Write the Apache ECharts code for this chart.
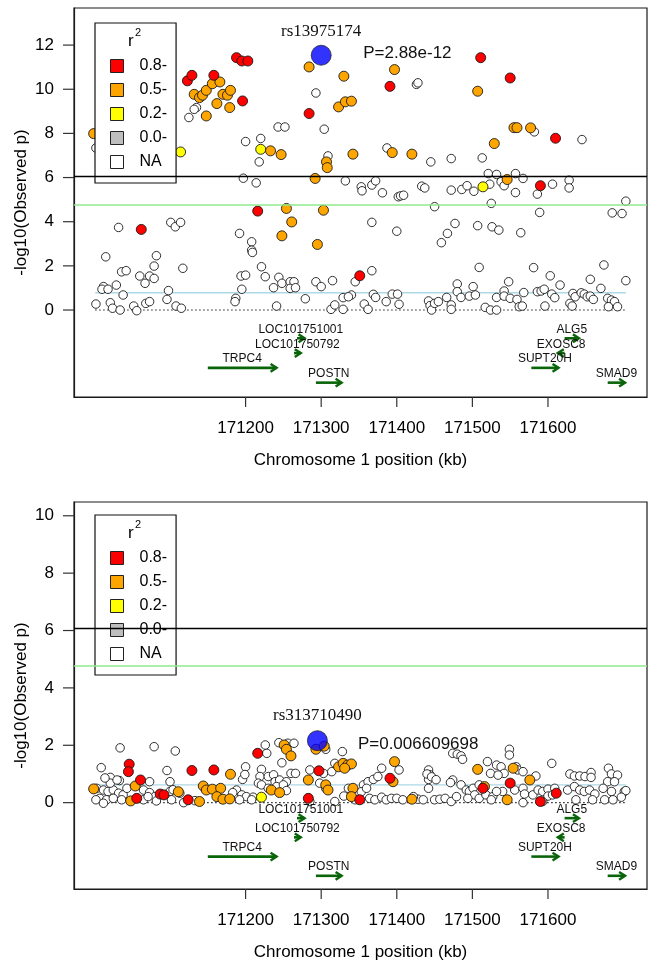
<!DOCTYPE html>
<html><head><meta charset="utf-8">
<script src="https://cdn.jsdelivr.net/npm/echarts@6/dist/echarts.min.js"></script>
<style>html,body{margin:0;padding:0;background:#fff}#c{width:648px;height:963px}</style>
</head><body><div id="c"></div>
<script>
// ---------- data ----------
const xTicksKb = [171200, 171300, 171400, 171500, 171600];
const topYTicks = [0, 2, 4, 6, 8, 10, 12];
const bottomYTicks = [0, 2, 4, 6, 8, 10];
const r2Classes = ['0.8-', '0.5-', '0.2-', '0.0-', 'NA'];
const r2Colors = ['#FF0000', '#FFA500', '#FFFF00', '#BEBEBE', '#FFFFFF'];
const regionKb = [171001, 171703];

const topLead = { snp: 'rs13975174', p: 'P=2.88e-12', kb: 171300, logp: 11.54 };
const bottomLead = { snp: 'rs313710490', p: 'P=0.006609698', kb: 171295, logp: 2.16 };
const topThresholds = { genome: 6.06, suggestive: 4.75, baseline: 0.78 };
const bottomThresholds = { genome: 6.09, suggestive: 4.77, baseline: 0.62 };

const genes = [
  { name: 'LOC101751001', start: 171268, end: 171278, strand: '+', row: 0 },
  { name: 'LOC101750792', start: 171264, end: 171273, strand: '+', row: 1 },
  { name: 'TRPC4', start: 171150, end: 171241, strand: '+', row: 2 },
  { name: 'POSTN', start: 171293, end: 171327, strand: '+', row: 3 },
  { name: 'ALG5', start: 171622, end: 171641, strand: '+', row: 0 },
  { name: 'EXOSC8', start: 171613, end: 171622, strand: '-', row: 1 },
  { name: 'SUPT20H', start: 171578, end: 171614, strand: '+', row: 2 },
  { name: 'SMAD9', start: 171679, end: 171702, strand: '+', row: 3 }
];

// top panel points [kb, -log10 p]
const topR08 = [[171188,11.43],[171195,11.28],[171203,11.28],[171123,10.38],[171129,10.63],[171158,10.63],[171196,9.47],[171062,3.65],[171216,4.48],[171391,10.13],[171284,8.90],[171351,1.55],[171511,11.43],[171550,10.51],[171610,7.78],[171590,5.63]];
const topR05 = [[171132,9.77],[171139,9.62],[171143,9.73],[171148,9.95],[171156,10.25],[171166,10.33],[171162,9.35],[171170,9.77],[171176,9.73],[171180,9.95],[171179,9.17],[171148,8.79],[170999,7.99],[171284,11.01],[171330,10.59],[171397,10.89],[171323,9.20],[171332,9.43],[171340,9.46],[171233,7.21],[171247,7.04],[171307,6.71],[171308,6.45],[171342,7.06],[171394,7.13],[171420,7.06],[171292,5.96],[171254,4.60],[171303,4.52],[171261,3.99],[171248,3.36],[171295,2.97],[171507,9.91],[171555,8.26],[171559,8.26],[171577,8.25],[171529,7.54],[171546,5.91]];
const topR02 = [[171114,7.16],[171220,7.28],[171514,5.58]];
const topR00 = [];
const topNA = [[171135,9.17],[171132,9.09],[171125,8.72],[171002,7.34],[171020,6.18],[171063,6.38],[171200,7.63],[171220,7.77],[171218,6.71],[171197,5.97],[171214,5.76],[171032,3.74],[171101,3.97],[171107,3.77],[171114,3.97],[171192,3.47],[171208,3.09],[171208,2.71],[171209,2.61],[171015,2.41],[171082,2.46],[171079,1.99],[171117,1.89],[171036,1.73],[171042,1.78],[171060,1.54],[171073,1.54],[171079,1.43],[171067,1.21],[171029,1.13],[171012,1.06],[171010,0.94],[171018,0.94],[171038,0.68],[171098,0.88],[171096,0.48],[171002,0.27],[171021,0.33],[171024,0.08],[171034,0.00],[171052,0.18],[171056,-0.03],[171068,0.30],[171073,0.38],[171108,0.18],[171115,0.08],[171194,1.54],[171200,1.58],[171195,0.94],[171187,0.53],[171186,0.38],
[171426,10.22],[171428,10.29],[171293,9.83],[171243,8.29],[171252,8.29],[171304,8.19],[171309,6.98],[171387,7.34],[171445,6.71],[171472,6.86],[171332,5.85],[171353,5.58],[171354,5.40],[171367,5.66],[171372,5.85],[171381,5.31],[171402,5.13],[171405,5.17],[171409,5.20],[171433,5.61],[171437,5.53],[171472,5.43],[171450,4.68],[171367,3.97],[171400,3.57],[171467,3.47],[171459,3.05],[171221,1.96],[171367,1.78],[171226,1.51],[171244,1.48],[171248,1.21],[171237,1.01],[171259,1.28],[171264,1.28],[171259,0.98],[171266,1.01],[171293,1.28],[171300,1.06],[171315,1.33],[171345,1.28],[171279,0.51],[171241,0.18],[171313,0.03],[171318,0.23],[171329,0.56],[171329,0.03],[171340,0.68],[171336,0.60],[171357,0.27],[171362,0.03],[171369,0.71],[171372,0.57],[171386,0.38],[171394,0.72],[171401,0.72],[171403,0.26],[171442,0.41],[171444,0.20],[171446,0.00],[171450,0.30],[171455,0.38],[171466,0.57],[171472,0.23],
[171582,8.07],[171645,7.72],[171513,6.89],[171521,6.18],[171532,6.14],[171557,6.18],[171567,5.96],[171538,5.81],[171542,5.63],[171486,5.46],[171493,5.63],[171502,5.38],[171523,5.70],[171606,5.70],[171628,5.88],[171628,5.53],[171586,5.25],[171557,5.32],[171525,4.83],[171589,4.42],[171685,4.40],[171698,4.37],[171703,4.93],[171477,3.92],[171507,3.82],[171526,3.77],[171535,3.62],[171564,3.50],[171509,1.93],[171581,1.92],[171674,2.04],[171603,1.55],[171656,1.39],[171703,1.33],[171548,1.28],[171616,1.13],[171501,1.06],[171480,1.18],[171480,0.83],[171485,0.57],[171496,0.63],[171504,0.68],[171532,0.57],[171542,0.86],[171542,0.63],[171550,0.53],[171559,0.48],[171568,0.79],[171586,0.83],[171591,0.86],[171595,0.94],[171605,0.72],[171609,0.56],[171633,0.75],[171636,0.60],[171644,0.78],[171648,0.72],[171652,0.60],[171656,0.63],[171660,0.48],[171670,0.98],[171679,0.53],[171684,0.45],[171688,0.38],[171472,0.03],[171517,0.12],[171524,0.00],[171532,0.00],[171562,0.15],[171566,0.18],[171596,0.18],[171629,0.30],[171632,0.18],[171680,0.15],[171692,0.15]];

// bottom panel points
const bottomR08 = [[171046,1.34],[171045,1.08],[171129,1.12],[171158,1.14],[171061,0.79],[171087,0.30],[171092,0.27],[171124,0.10],[171056,0.15],[171216,1.72],[171297,1.11],[171351,0.10],[171283,0.15],[171391,0.85],[171550,0.68],[171590,0.04],[171611,0.33],[171514,0.50]];
const bottomR05 = [[171180,0.99],[170999,0.48],[171054,0.58],[171144,0.58],[171148,0.44],[171156,0.47],[171167,0.50],[171162,0.21],[171170,0.12],[171179,0.13],[171139,0.04],[171048,0.06],[171111,0.38],[171293,1.86],[171304,1.97],[171251,2.01],[171254,1.86],[171260,1.63],[171283,0.79],[171306,0.62],[171309,0.44],[171323,1.25],[171329,1.37],[171335,1.31],[171340,1.35],[171331,1.20],[171342,0.50],[171340,0.21],[171234,0.44],[171245,0.35],[171397,1.43],[171395,0.73],[171420,0.12],[171507,1.16],[171554,1.20],[171576,0.79],[171546,0.10],[171516,0.56]];
const bottomR02 = [[171221,0.19]];
const bottomR00 = [];
const bottomNA = [[171034,1.91],[171079,1.95],[171107,1.80],[171009,1.22],[171096,1.12],[171200,1.25],[171021,0.88],[171033,0.77],[171073,0.73],[171100,0.73],[171196,0.81],[171003,0.50],[171012,0.44],[171018,0.39],[171025,0.44],[171032,0.33],[171038,0.27],[171043,0.50],[171065,0.44],[171073,0.35],[171080,0.21],[171007,0.15],[171016,0.10],[171025,0.15],[171036,0.10],[171002,0.10],[171012,-0.02],[171065,0.10],[171082,0.06],[171100,0.39],[171113,0.33],[171102,0.10],[171118,0.00],[171133,0.07],[171188,0.44],[171195,0.27],[171201,0.21],[171210,0.19],[171192,0.10],[171208,0.10],[171021,0.68],[171071,0.21],[171014,0.86],[171030,0.79],[171104,0.45],[171183,0.35],[171199,0.98],
[171306,1.86],[171228,1.72],[171226,2.01],[171244,2.09],[171256,2.07],[171264,2.07],[171221,1.16],[171248,1.39],[171260,1.02],[171266,1.02],[171219,0.91],[171217,0.68],[171230,0.91],[171237,0.97],[171239,0.73],[171245,0.79],[171254,0.73],[171285,1.14],[171303,1.02],[171306,0.50],[171298,0.68],[171328,1.78],[171318,1.37],[171314,1.08],[171345,0.10],[171221,0.62],[171230,0.50],[171241,0.56],[171250,0.62],[171254,0.42],[171285,0.04],[171318,0.04],[171330,0.23],[171336,0.50],[171380,1.20],[171403,1.14],[171356,0.62],[171362,0.73],[171369,0.81],[171375,0.91],[171353,0.38],[171360,0.50],[171364,0.15],[171371,0.10],[171380,0.19],[171386,0.10],[171393,0.15],[171400,0.15],[171408,0.10],[171428,0.12],[171435,0.10],[171442,0.50],[171450,0.10],[171457,0.12],[171464,0.15],[171442,1.14],[171444,0.97],[171442,0.81],[171440,1.00],[171446,0.90],[171452,0.80],[171422,0.21],
[171474,1.72],[171480,1.69],[171485,1.63],[171487,1.51],[171549,1.86],[171549,1.66],[171605,1.37],[171520,1.43],[171532,1.31],[171538,1.25],[171542,1.02],[171524,1.02],[171534,0.96],[171558,1.25],[171560,1.14],[171567,1.08],[171584,0.93],[171629,1.00],[171635,0.93],[171642,0.93],[171649,0.91],[171657,1.05],[171657,0.88],[171680,1.20],[171684,1.00],[171692,0.96],[171679,0.73],[171688,0.73],[171474,0.79],[171471,0.70],[171485,0.62],[171492,0.44],[171496,0.39],[171501,0.50],[171509,0.62],[171503,0.27],[171509,0.15],[171518,0.27],[171527,0.21],[171540,0.39],[171556,0.44],[171567,0.50],[171569,0.30],[171580,0.27],[171587,0.44],[171593,0.39],[171600,0.47],[171609,0.50],[171600,0.23],[171606,0.27],[171626,0.44],[171635,0.56],[171642,0.44],[171648,0.39],[171655,0.44],[171662,0.30],[171673,0.50],[171684,0.39],[171701,0.39],[171703,0.42],[171697,0.19],[171659,0.10],[171675,0.10],[171686,0.10],[171637,0.10],[171494,0.15],[171525,0.10],[171567,0.00],[171593,0.04],[171472,0.04],[171479,0.21],[171532,0.39]];

// ---------- layout / style ----------
const SANS = '"Liberation Sans", Arial, sans-serif';
const SERIF = '"Liberation Serif", "Times New Roman", serif';
const xMin = 170973, xMax = 171731;
const panels = [
  { top: 8, height: 389, yMin: -3.94, yMax: 13.68, yTicks: topYTicks, pts: [topR08, topR05, topR02, topR00, topNA],
    lead: topLead, thr: topThresholds, geneBase: -1.28, geneStep: 0.67, legendTop: 23, rsDist: 24, pDx: 42, pDy: -2 },
  { top: 502, height: 387, yMin: -3.01, yMax: 10.48, yTicks: bottomYTicks, pts: [bottomR08, bottomR05, bottomR02, bottomR00, bottomNA],
    lead: bottomLead, thr: bottomThresholds, geneBase: -0.54, geneStep: 0.67, legendTop: 515, rsDist: 25.5, pDx: 40.5, pDy: 4 }
];

const grids = [], xAxes = [], yAxes = [], series = [], legends = [], graphics = [];
const axisInk = { color: '#1a1a1a', width: 1.2 };
const tickInk = { stroke: '#333', lineWidth: 1.2 };

panels.forEach((P, i) => {
  grids.push({ left: 74, top: P.top, width: 573, height: P.height, show: true,
    borderColor: '#1a1a1a', borderWidth: 1.2, backgroundColor: 'transparent' });
  xAxes.push({ type: 'value', gridIndex: i, min: xMin, max: xMax, position: 'bottom',
    name: 'Chromosome 1 position (kb)', nameLocation: 'middle', nameGap: 55, nameMoveOverlap: false,
    nameTextStyle: { fontFamily: SANS, fontSize: 17, color: '#000' },
    axisLine: { show: true, onZero: false, lineStyle: axisInk }, splitLine: { show: false },
    axisTick: { show: false },
    axisLabel: { show: true, customValues: xTicksKb, margin: 23, fontFamily: SANS, fontSize: 17, color: '#000',
      formatter: v => String(v) } });
  yAxes.push({ type: 'value', gridIndex: i, min: P.yMin, max: P.yMax, position: 'left',
    name: '-log10(Observed p)', nameLocation: 'middle', nameGap: 44, nameMoveOverlap: false,
    nameTextStyle: { fontFamily: SANS, fontSize: 17, color: '#000' },
    axisLine: { show: true, onZero: false, lineStyle: axisInk }, splitLine: { show: false },
    axisTick: { show: false },
    axisLabel: { show: true, customValues: P.yTicks, margin: 20, fontFamily: SANS, fontSize: 17, color: '#000',
      formatter: v => String(v) } });

  // outward tick marks at the labelled positions
  series.push({ type: 'custom', xAxisIndex: i, yAxisIndex: i, z: 2, clip: false, silent: true,
    data: xTicksKb.map(v => [v, P.yMin]),
    renderItem: (params, api) => {
      const c = api.coord([api.value(0), api.value(1)]);
      return { type: 'line', shape: { x1: c[0], y1: c[1], x2: c[0], y2: c[1] + 10 }, style: tickInk };
    } });
  series.push({ type: 'custom', xAxisIndex: i, yAxisIndex: i, z: 2, clip: false, silent: true,
    data: P.yTicks.map(v => [xMin, v]),
    renderItem: (params, api) => {
      const c = api.coord([api.value(0), api.value(1)]);
      return { type: 'line', shape: { x1: c[0] - 11, y1: c[1], x2: c[0], y2: c[1] }, style: tickInk };
    } });

  // reference lines
  series.push({ type: 'line', xAxisIndex: i, yAxisIndex: i, data: [], z: 1, silent: true,
    markLine: { silent: true, symbol: 'none', label: { show: false }, animation: false,
      data: [ { yAxis: P.thr.genome, lineStyle: { color: '#000', width: 1.3, type: 'solid' } },
              { yAxis: P.thr.suggestive, lineStyle: { color: '#8FEA8F', width: 1.6, type: 'solid' } } ] } });
  series.push({ type: 'line', xAxisIndex: i, yAxisIndex: i, z: 1, silent: true, showSymbol: false,
    data: [[regionKb[0], P.thr.baseline], [regionKb[1], P.thr.baseline]], lineStyle: { color: '#ADD8E6', width: 1.4 } });
  series.push({ type: 'line', xAxisIndex: i, yAxisIndex: i, z: 1, silent: true, showSymbol: false,
    data: [[regionKb[0], 0], [regionKb[1], 0]], lineStyle: { color: '#222', width: 1.2, type: [1.5, 2.5] } });

  // points: NA first, then increasing r2
  for (let k = r2Classes.length - 1; k >= 0; k--) {
    series.push({ type: 'scatter', name: r2Classes[k], xAxisIndex: i, yAxisIndex: i, z: 3 + (4 - k) * 0.1,
      symbol: 'circle', symbolSize: k === 4 ? 8.5 : 10, data: P.pts[k],
      itemStyle: { color: r2Colors[k], borderColor: '#1a1a1a', borderWidth: 0.9, opacity: 1 } });
  }
  // lead SNP
  series.push({ type: 'scatter', name: 'lead' + i, xAxisIndex: i, yAxisIndex: i, z: 5, symbolSize: 20,
    data: [[P.lead.kb, P.lead.logp]],
    itemStyle: { color: '#0000FF', borderColor: '#1a1a1a', borderWidth: 0.9 } });
  // lead annotations (SNP id above, P value to the right)
  series.push({ type: 'custom', xAxisIndex: i, yAxisIndex: i, z: 6, clip: false, silent: true,
    data: [[P.lead.kb, P.lead.logp]],
    renderItem: (params, api) => {
      const c = api.coord([api.value(0), api.value(1)]);
      return { type: 'group', children: [
        { type: 'text', x: c[0], y: c[1] - P.rsDist,
          style: { text: P.lead.snp, font: '17px ' + SERIF, fill: '#111', align: 'center', verticalAlign: 'middle' } },
        { type: 'text', x: c[0] + P.pDx, y: c[1] + P.pDy,
          style: { text: P.lead.p, font: '17px ' + SANS, fill: '#111', align: 'left', verticalAlign: 'middle' } }
      ] };
    } });

  // genes
  series.push({ type: 'custom', xAxisIndex: i, yAxisIndex: i, z: 4, clip: false, silent: true,
    data: genes.map(g => [g.start, g.end, P.geneBase - g.row * P.geneStep]),
    encode: { x: [0, 1], y: 2 },
    renderItem: (params, api) => {
      const g = genes[params.dataIndex];
      const yv = api.value(2);
      const a = api.coord([api.value(0), yv]);
      const b = api.coord([api.value(1), yv]);
      const from = g.strand === '+' ? a : b, to = g.strand === '+' ? b : a;
      const dir = to[0] >= from[0] ? 1 : -1;
      const ah = 6;
      const col = '#0A640A';
      return { type: 'group', children: [
        { type: 'line', shape: { x1: from[0], y1: from[1], x2: to[0], y2: to[1] }, style: { stroke: col, lineWidth: 2.6 } },
        { type: 'polyline', shape: { points: [[to[0] - dir * ah, to[1] - ah * 0.65], [to[0], to[1]], [to[0] - dir * ah, to[1] + ah * 0.65]] },
          style: { stroke: col, lineWidth: 2.4, fill: null } },
        { type: 'text', x: (a[0] + b[0]) / 2, y: a[1] - 8.7,
          style: { text: g.name, fill: '#111', font: '12px ' + SANS, align: 'center', verticalAlign: 'middle' } }
      ] };
    } });

  legends.push({ orient: 'vertical', left: 95, top: P.legendTop, data: r2Classes, selectedMode: false,
    backgroundColor: '#fff', borderColor: '#111', borderWidth: 1.2, padding: [35, 9, 13, 15],
    itemWidth: 13, itemHeight: 13, itemGap: 8, icon: 'rect',
    itemStyle: { borderColor: '#222', borderWidth: 1 },
    textStyle: { fontFamily: SANS, fontSize: 16, color: '#000', lineHeight: 13, padding: [0, 0, 0, 11] } });
  graphics.push({ type: 'text', left: 128, top: P.legendTop + 10, z: 100,
    style: { text: 'r', font: '17px ' + SANS, fill: '#000' } });
  graphics.push({ type: 'text', left: 135, top: P.legendTop + 4, z: 100,
    style: { text: '2', font: '11px ' + SANS, fill: '#000' } });
});

const chart = echarts.init(document.getElementById('c'), null, { renderer: 'canvas' });
chart.setOption({ animation: false, backgroundColor: '#fff', grid: grids, xAxis: xAxes, yAxis: yAxes,
  legend: legends, series: series, graphic: graphics });
</script></body></html>
